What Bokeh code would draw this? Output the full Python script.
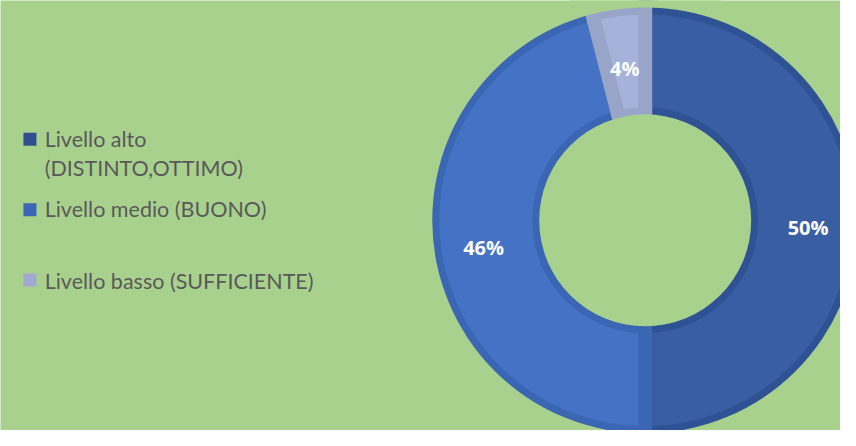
import math
from bokeh.plotting import figure
from bokeh.embed import file_html
from bokeh.resources import INLINE
from bokeh.core.properties import value

# ---- data ----
categories = ["Livello alto\n(DISTINTO,OTTIMO)", "Livello medio (BUONO)", "Livello basso (SUFFICIENTE)"]
values = [50, 46, 4]
pct_labels = ["50%", "46%", "4%"]

# ---- styles ----
fills = ["#3a5ea3", "#4472c4", "#a6b2da"]
borders = ["#2f5294", "#3a66b3", "#99a4c9"]
legend_colors = ["#2f4f90", "#3b66b6", "#a0aad0"]
bg = "#a9d18e"

# canvas in reference-pixel units
RW, RH = 856, 446
W, H = 840, 430


def py(sy):
    return RH - sy


p = figure(width=W, height=H, x_range=(0, RW), y_range=(0, RH),
           output_backend="svg", toolbar_location=None,
           background_fill_color=bg, border_fill_color=bg,
           min_border=0, outline_line_color=None)
p.axis.visible = False
p.grid.visible = False

# donut geometry
cx, cy = 657, py(228)
R_out, R_in = 217, 108
bw = 14

total = sum(values)
cum = 0.0
mids = []
for v, f, b in zip(values, fills, borders):
    a0 = math.pi / 2 - 2 * math.pi * (cum + v) / total
    a1 = math.pi / 2 - 2 * math.pi * cum / total
    p.annular_wedge(x=[cx], y=[cy], inner_radius=R_in, outer_radius=R_out,
                    start_angle=a0, end_angle=a1, fill_color=f,
                    line_color=b, line_width=bw, line_join="miter")
    mids.append((a0 + a1) / 2)
    cum += v

# mask stroke overflow inside hole and outside ring
p.circle(x=[cx], y=[cy], radius=R_in, fill_color=bg, line_color=None)
p.annulus(x=[cx], y=[cy], inner_radius=R_out, outer_radius=R_out + 20,
          fill_color=bg, line_color=None)

# percentage labels
rm = 166
lx = [cx + rm * math.cos(a) for a in mids]
ly = [cy + rm * math.sin(a) - 7 for a in mids]
p.text(x=lx, y=ly, text=pct_labels, text_color="white",
       text_font=value("Open Sans"), text_font_style="bold", text_font_size="20px",
       text_align="center", text_baseline="middle")

# legend
square_y = [py(144), py(217), py(290)]
line_base = [[143.5, 173.5], [216.5], [290.5]]
p.scatter(x=[30] * 3, y=square_y, marker="square", size=13,
          fill_color=legend_colors, line_color=None)
tx, ty, tt = [], [], []
for lab, bases in zip(categories, line_base):
    for line, b in zip(lab.split("\n"), bases):
        tx.append(45)
        ty.append(py(b))
        tt.append(line)
p.text(x=tx, y=ty, text=tt, text_color="#595959",
       text_font=value("Lato"), text_font_size="21.5px",
       text_align="left", text_baseline="alphabetic")

open("out.html", "w").write(file_html(p, INLINE))
